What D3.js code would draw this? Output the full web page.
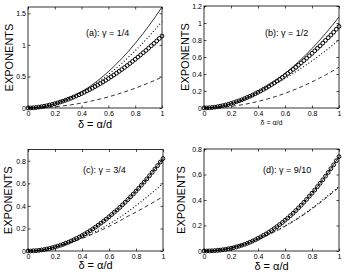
<!DOCTYPE html>
<html>
<head>
<meta charset="utf-8">
<script src="https://d3js.org/d3.v7.min.js"></script>
<style>
body { margin: 0; background: #fff; }
svg { display: block; font-family: "Liberation Sans", Arial, sans-serif; }
</style>
</head>
<body>
<div class="board"></div>
<script>
// delta grids: markers every .02, lines every .05
var deltaMarks = d3.range(0, 51).map(function(i) { return +(i * 0.02).toFixed(2); });
var deltaLines = d3.range(0, 21).map(function(i) { return +(i * 0.05).toFixed(2); });

var xTicks = [0, 0.2, 0.4, 0.6, 0.8, 1];

// (a) gamma = 1/4
var circlesA = [0, 0.001, 0.004, 0.008, 0.014, 0.020, 0.028, 0.036, 0.046, 0.057, 0.068, 0.081, 0.094, 0.108, 0.123,
  0.139, 0.155, 0.173, 0.191, 0.210, 0.229, 0.250, 0.271, 0.293, 0.315, 0.339, 0.363, 0.388, 0.413, 0.439,
  0.466, 0.494, 0.522, 0.551, 0.580, 0.610, 0.641, 0.673, 0.705, 0.739, 0.772, 0.806, 0.840, 0.876, 0.911,
  0.948, 0.986, 1.023, 1.061, 1.101, 1.140];
var solidA = [0, 0.004, 0.016, 0.036, 0.064, 0.100, 0.144, 0.196, 0.256, 0.324, 0.400, 0.484, 0.576, 0.676, 0.784, 0.900, 1.024, 1.156, 1.296, 1.444, 1.600];
var dottedA = [0, 0.005, 0.019, 0.041, 0.070, 0.105, 0.148, 0.196, 0.252, 0.312, 0.380, 0.453, 0.533, 0.617, 0.708, 0.804, 0.907, 1.013, 1.128, 1.247, 1.370];
var dashedA = [0, 0.001, 0.005, 0.011, 0.020, 0.031, 0.044, 0.060, 0.078, 0.099, 0.123, 0.148, 0.176, 0.207, 0.240, 0.276, 0.314, 0.354, 0.397, 0.442, 0.490];
var yTicksA = [0, 0.5, 1, 1.5];

// (b) gamma = 1/2
var circlesB = [0, 0.001, 0.003, 0.006, 0.010, 0.015, 0.021, 0.028, 0.035, 0.044, 0.053, 0.063, 0.074, 0.085, 0.097,
  0.110, 0.124, 0.138, 0.152, 0.168, 0.185, 0.201, 0.219, 0.237, 0.256, 0.276, 0.296, 0.317, 0.338, 0.360,
  0.383, 0.406, 0.430, 0.454, 0.479, 0.505, 0.531, 0.558, 0.586, 0.615, 0.643, 0.672, 0.702, 0.731, 0.763,
  0.795, 0.827, 0.858, 0.892, 0.926, 0.960];
var solidB = [0, 0.004, 0.013, 0.029, 0.050, 0.077, 0.109, 0.146, 0.188, 0.234, 0.287, 0.344, 0.405, 0.472, 0.543, 0.619, 0.700, 0.785, 0.876, 0.971, 1.070];
var dottedB = [0, 0.003, 0.012, 0.026, 0.046, 0.071, 0.101, 0.135, 0.172, 0.212, 0.255, 0.300, 0.347, 0.396, 0.447, 0.500, 0.555, 0.612, 0.672, 0.735, 0.800];
var dashedB = [0, 0.001, 0.005, 0.011, 0.019, 0.030, 0.043, 0.059, 0.077, 0.097, 0.120, 0.145, 0.173, 0.203, 0.235, 0.270, 0.307, 0.347, 0.389, 0.433, 0.480];
var yTicksB = [0, 0.2, 0.4, 0.6, 0.8, 1, 1.2];

// (c) gamma = 3/4
var circlesC = [0, 0.000, 0.002, 0.003, 0.006, 0.009, 0.013, 0.018, 0.023, 0.029, 0.036, 0.043, 0.051, 0.059, 0.069,
  0.078, 0.089, 0.100, 0.112, 0.124, 0.137, 0.151, 0.165, 0.180, 0.196, 0.212, 0.229, 0.247, 0.265, 0.283,
  0.303, 0.323, 0.344, 0.364, 0.386, 0.409, 0.432, 0.456, 0.481, 0.505, 0.531, 0.557, 0.584, 0.611, 0.639,
  0.668, 0.697, 0.727, 0.757, 0.789, 0.820];
var dottedC = [0, 0.003, 0.009, 0.020, 0.033, 0.050, 0.069, 0.091, 0.115, 0.142, 0.172, 0.205, 0.239, 0.276, 0.315, 0.357, 0.402, 0.448, 0.497, 0.547, 0.600];
var dashedC = [0, 0.003, 0.009, 0.020, 0.033, 0.050, 0.068, 0.089, 0.111, 0.135, 0.161, 0.189, 0.218, 0.249, 0.281, 0.315, 0.345, 0.378, 0.412, 0.447, 0.482];
var yTicksC = [0, 0.2, 0.4, 0.6, 0.8];

// (d) gamma = 9/10
var circlesD = [0, 0.000, 0.001, 0.002, 0.003, 0.005, 0.007, 0.010, 0.013, 0.017, 0.021, 0.026, 0.032, 0.038, 0.045,
  0.052, 0.060, 0.069, 0.078, 0.088, 0.099, 0.110, 0.122, 0.134, 0.147, 0.161, 0.176, 0.191, 0.207, 0.223,
  0.241, 0.258, 0.277, 0.296, 0.317, 0.338, 0.359, 0.382, 0.405, 0.429, 0.453, 0.478, 0.505, 0.531, 0.558,
  0.587, 0.616, 0.646, 0.676, 0.708, 0.740];
var dottedD = [0, 0.002, 0.007, 0.015, 0.026, 0.039, 0.055, 0.073, 0.093, 0.116, 0.141, 0.168, 0.197, 0.228, 0.262, 0.298, 0.336, 0.376, 0.418, 0.462, 0.507];
var dashedD = [0, 0.002, 0.007, 0.015, 0.025, 0.039, 0.054, 0.072, 0.092, 0.114, 0.139, 0.165, 0.194, 0.225, 0.258, 0.293, 0.331, 0.370, 0.412, 0.455, 0.500];
var yTicksD = [0, 0.2, 0.4, 0.6, 0.8];

var width = 345;
var height = 275;

var svg = d3.select('.board').append('svg')
  .attr('width', width)
  .attr('height', height);

// panel boxes + text placement (pixels)
var panels = [
  { title: '(a): \u03b3 = 1/4', box: [28, 162, 7, 108], yMax: 1.6, yTicks: yTicksA,
    circles: circlesA, solid: solidA, dotted: dottedA, dashed: dashedA,
    xlabSize: 11, xlabY: 128, ylabX: 13, titleX: 86, titleY: 36 },
  { title: '(b): \u03b3 = 1/2', box: [204, 339, 6, 108], yMax: 1.2, yTicks: yTicksB,
    circles: circlesB, solid: solidB, dotted: dottedB, dashed: dashedB,
    xlabSize: 7, xlabY: 125, ylabX: 189, titleX: 265, titleY: 36 },
  { title: '(c): \u03b3 = 3/4', box: [28, 163, 149.5, 251], yMax: 0.9, yTicks: yTicksC,
    circles: circlesC, solid: null, dotted: dottedC, dashed: dashedC,
    xlabSize: 11, xlabY: 269, ylabX: 12, titleX: 83, titleY: 173 },
  { title: '(d): \u03b3 = 9/10', box: [204, 339, 149, 251], yMax: 0.8, yTicks: yTicksD,
    circles: circlesD, solid: null, dotted: dottedD, dashed: dashedD,
    xlabSize: 11, xlabY: 270, ylabX: 185, titleX: 263, titleY: 173 }
];

var tickText = function(d) { return String(d); };

var styleAxis = function(g) {
  g.select('.domain').remove();
  g.selectAll('line').attr('stroke', '#000').attr('stroke-width', 0.7);
  g.selectAll('text').attr('font-size', 7).attr('fill', '#000')
    .attr('font-family', '"Liberation Sans", Arial, sans-serif');
};

var drawPanel = function(p) {
  var x = d3.scaleLinear().domain([0, 1]).range([p.box[0], p.box[1]]);
  var y = d3.scaleLinear().domain([0, p.yMax]).range([p.box[3], p.box[2]]);
  var g = svg.append('g');

  // ticks point inward on all four sides (matlab look)
  g.append('g').attr('transform', 'translate(0,' + p.box[3] + ')')
    .call(d3.axisBottom(x).tickValues(xTicks).tickSize(-2.5).tickPadding(3).tickFormat(tickText))
    .call(styleAxis);
  g.append('g').attr('transform', 'translate(0,' + p.box[2] + ')')
    .call(d3.axisTop(x).tickValues(xTicks).tickSize(-2.5).tickFormat(''))
    .call(styleAxis);
  g.append('g').attr('transform', 'translate(' + p.box[0] + ',0)')
    .call(d3.axisLeft(y).tickValues(p.yTicks).tickSize(-2.5).tickPadding(2).tickFormat(tickText))
    .call(styleAxis);
  g.append('g').attr('transform', 'translate(' + p.box[1] + ',0)')
    .call(d3.axisRight(y).tickValues(p.yTicks).tickSize(-2.5).tickFormat(''))
    .call(styleAxis);

  g.append('rect')
    .attr('x', p.box[0]).attr('y', p.box[2])
    .attr('width', p.box[1] - p.box[0]).attr('height', p.box[3] - p.box[2])
    .attr('fill', 'none').attr('stroke', '#000').attr('stroke-width', 0.8);

  var line = d3.line()
    .x(function(d, i) { return x(deltaLines[i]); })
    .y(function(d) { return y(d); })
    .curve(d3.curveMonotoneX);
  var markLine = d3.line()
    .x(function(d, i) { return x(deltaMarks[i]); })
    .y(function(d) { return y(d); });

  // open circle markers
  g.selectAll('circle.mk')
    .data(p.circles)
    .enter().append('circle')
    .attr('class', 'mk')
    .attr('cx', function(d, i) { return x(deltaMarks[i]); })
    .attr('cy', function(d) { return y(d); })
    .attr('r', 1.9)
    .attr('fill', 'none')
    .attr('stroke', '#000')
    .attr('stroke-width', 1);

  // solid line (hidden under the markers in c and d)
  g.append('path')
    .attr('d', p.solid ? line(p.solid) : markLine(p.circles))
    .attr('fill', 'none').attr('stroke', '#000').attr('stroke-width', 0.8);
  g.append('path')
    .attr('d', line(p.dotted))
    .attr('fill', 'none').attr('stroke', '#000').attr('stroke-width', 1.1)
    .attr('stroke-dasharray', '1,2.2');
  g.append('path')
    .attr('d', line(p.dashed))
    .attr('fill', 'none').attr('stroke', '#000').attr('stroke-width', 0.8)
    .attr('stroke-dasharray', '4,3');

  g.append('text')
    .attr('x', p.titleX).attr('y', p.titleY)
    .attr('font-size', 9)
    .text(p.title);

  g.append('text')
    .attr('x', (p.box[0] + p.box[1]) / 2).attr('y', p.xlabY)
    .attr('text-anchor', 'middle')
    .attr('font-size', p.xlabSize)
    .text('\u03b4 = \u03b1/d');

  g.append('text')
    .attr('transform', 'translate(' + p.ylabX + ',' + (p.box[2] + p.box[3]) / 2 + ') rotate(-90)')
    .attr('text-anchor', 'middle')
    .attr('font-size', 11)
    .text('EXPONENTS');
};

panels.forEach(drawPanel);
</script>
</body>
</html>
